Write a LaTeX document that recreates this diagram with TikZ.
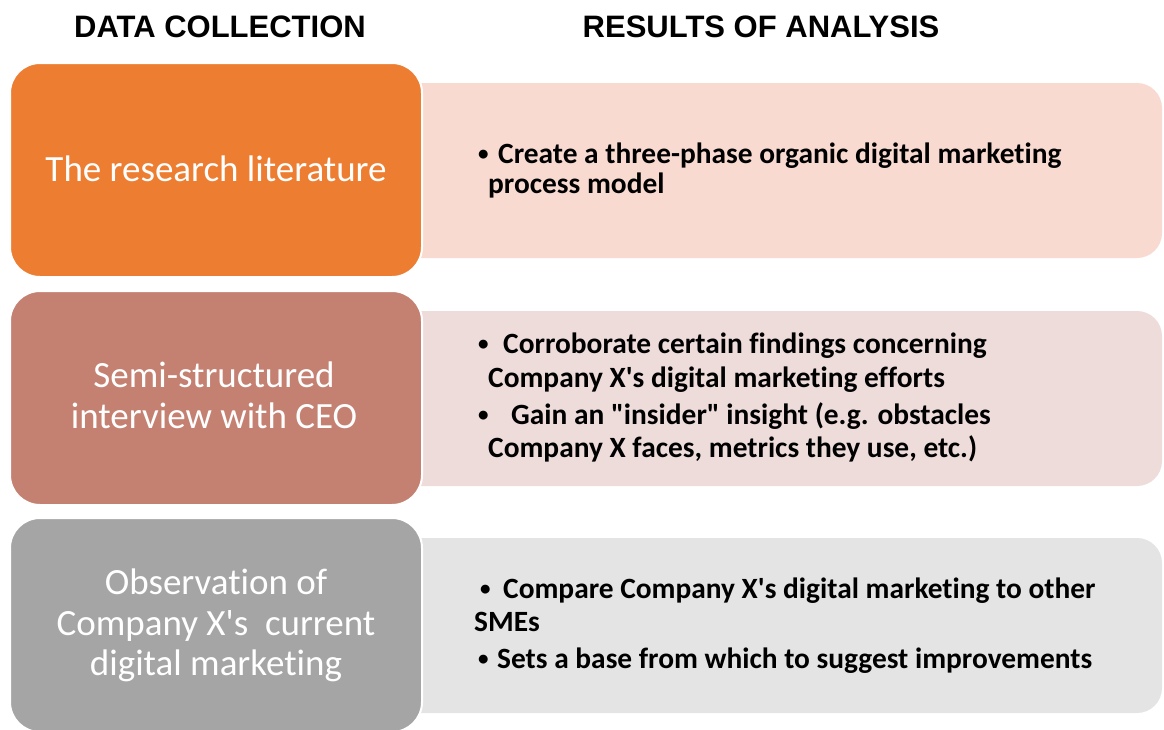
\documentclass[tikz,border=0pt]{standalone}
\usepackage{fontspec}
\setmainfont{Carlito}[Ligatures={TeX,NoCommon}]
\newfontfamily\headfont{Liberation Sans}
\newcommand\apos{\textquotesingle}
\newcommand\dq{\textquotedbl}
\newcommand\dotmark{{\fontsize{21}{21}\selectfont\raisebox{3pt}{•}}}

\definecolor{srcA}{HTML}{ED7D31}
\definecolor{resA}{HTML}{F8DAD0}
\definecolor{srcB}{HTML}{C48172}
\definecolor{resB}{HTML}{EEDCDB}
\definecolor{srcC}{HTML}{A5A5A5}
\definecolor{resC}{HTML}{E4E4E4}

\tikzset{
  resbox/.style={rectangle, rounded corners=25pt, draw=none,
    minimum width=782pt, minimum height=175pt, inner sep=0pt},
  srcbox/.style={rectangle, rounded corners=30pt, draw=white, line width=2pt,
    minimum width=412pt, minimum height=214pt, inner sep=0pt},
  head/.style={font=\headfont\bfseries\fontsize{31}{37}\selectfont, anchor=base, inner sep=0pt},
  srclabel/.style={font=\fontsize{37}{41}\selectfont, text=white, anchor=base, inner sep=0pt},
  item/.style={font=\bfseries\fontsize{29.4}{34}\selectfont, anchor=base west, inner sep=0pt},
}

\begin{document}
\begin{tikzpicture}[x=1pt,y=-1pt]
\useasboundingbox (0,0) rectangle (1164,729);
\clip (0,0) rectangle (1164,729);

% column headings
\node[head] (hdata) at (220,37) {DATA COLLECTION};
\node[head] (hres)  at (761,37) {RESULTS OF ANALYSIS};

% result panels (behind the source boxes)
\node[resbox, fill=resA] (resA) at (771,170.5) {};
\node[resbox, fill=resB] (resB) at (771,398.5) {};
\node[resbox, fill=resC] (resC) at (771,625.5) {};

% data sources
\node[srcbox, fill=srcA] (srcA) at (216,170) {};
\node[srcbox, fill=srcB] (srcB) at (216,398) {};
\node[srcbox, fill=srcC] (srcC) at (216,625) {};

\node[srclabel] (litA) at (216,181) {The research literature};
\node[srclabel] (intA) at (214,387) {Semi-structured};
\node[srclabel] (intB) at (214,428) {interview with CEO};
\node[srclabel] (obsA) at (216,594) {Observation of};
\node[srclabel] (obsB) at (216,635) {Company X\apos s~ current};
\node[srclabel] (obsC) at (216,675) {digital marketing};

% results: literature
\node[item] (bA1) at (478,163) {\dotmark};
\node[item] (tA1) at (498,163) {Create a three-phase organic digital marketing};
\node[item] (tA2) at (488,193) {process model};

% results: interview
\node[item] (bB1) at (478,353) {\dotmark};
\node[item] (tB1) at (503,353) {Corroborate certain findings concerning};
\node[item] (tB2) at (488,387) {Company X\apos s digital marketing efforts};
\node[item] (bB2) at (478,424) {\dotmark};
\node[item] (tB3) at (511,424) {Gain an \dq insider\dq\ insight (e.g. obstacles};
\node[item] (tB4) at (488,457) {Company X faces, metrics they use, etc.)};

% results: observation
\node[item] (bC1) at (480,598) {\dotmark};
\node[item] (tC1) at (503,598) {Compare Company X\apos s digital marketing to other};
\node[item] (tC2) at (474,631) {SMEs};
\node[item] (bC2) at (478,668) {\dotmark};
\node[item] (tC3) at (497,668) {Sets a base from which to suggest improvements};
\end{tikzpicture}
\end{document}
